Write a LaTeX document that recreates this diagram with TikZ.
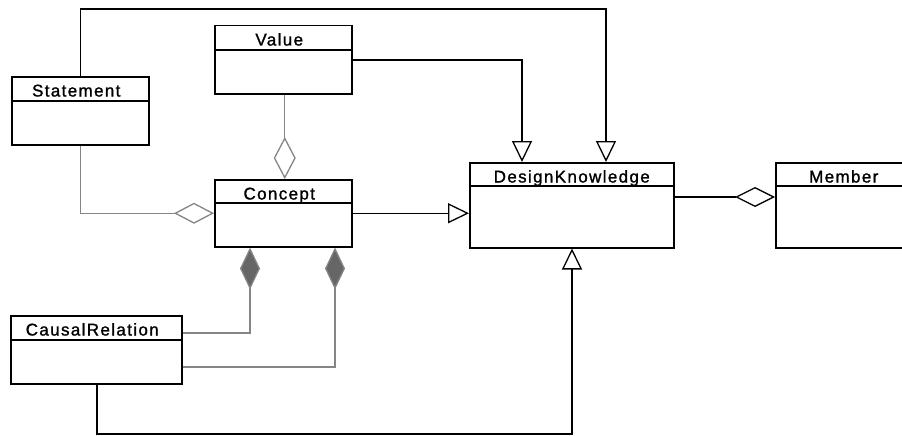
\documentclass[tikz,border=0pt]{standalone}
\usepackage{fontspec}
\setmainfont{Liberation Sans}[LetterSpace=8, FakeBold=1.2]
\usetikzlibrary{arrows.meta,calc}
\definecolor{lgray}{HTML}{858585}
\definecolor{dgray}{HTML}{666666}
\tikzset{
  cls/.style={draw=black, line width=1.5pt, rectangle, inner sep=0pt, anchor=north west, fill=white},
  dvd/.style={line width=1.5pt},
  ttl/.style={anchor=base, inner sep=0pt, font=\fontsize{17}{20}\selectfont},
  gen/.style={draw=black, line width=1.3pt, -{Triangle[open, length=21pt, width=20pt, line width=1.3pt]}},
  agg/.style={draw=lgray, line width=1.3pt, -{Diamond[open, length=42pt, width=22pt, line width=1.3pt]}},
  aggh/.style={draw=black, line width=1.3pt, -{Diamond[open, length=40pt, width=20pt, line width=1.3pt]}},
  aggs/.style={draw=lgray, line width=1.3pt, -{Diamond[open, length=40pt, width=21pt, line width=1.3pt]}},
  comp/.style={draw=lgray, line width=1.3pt, -{Diamond[fill=dgray, length=42pt, width=20pt, line width=1.3pt]}},
}
\begin{document}
\begin{tikzpicture}[x=1pt, y=-1pt]
\useasboundingbox (0,0) rectangle (902,436);
\clip (0,0) rectangle (902,436);
% classes
\node[cls, minimum width=137pt, minimum height=68pt] (value) at (214,25) {};
\node[cls, minimum width=137pt, minimum height=68pt] (statement) at (11,76) {};
\node[cls, minimum width=137pt, minimum height=67pt] (concept) at (214,179) {};
\node[cls, minimum width=204pt, minimum height=85pt] (dk) at (469,162) {};
\node[cls, minimum width=138pt, minimum height=85pt] (member) at (775,162) {};
\node[cls, minimum width=171pt, minimum height=68pt] (causal) at (10,315) {};
% dividers
\draw[dvd] ($(value.north west)+(0,25)$) -- ($(value.north east)+(0,25)$);
\draw[dvd] ($(statement.north west)+(0,25)$) -- ($(statement.north east)+(0,25)$);
\draw[dvd] ($(concept.north west)+(0,24)$) -- ($(concept.north east)+(0,24)$);
\draw[dvd] ($(dk.north west)+(0,24)$) -- ($(dk.north east)+(0,24)$);
\draw[dvd] ($(member.north west)+(0,24)$) -- ($(member.north east)+(0,24)$);
\draw[dvd] ($(causal.north west)+(0,25)$) -- ($(causal.north east)+(0,25)$);
% titles
\node[ttl] (tvalue) at ($(value.north)+(-4,20.5)$) {Value};
\node[ttl] (tstatement) at ($(statement.north)+(-4,20.5)$) {Statement};
\node[ttl] (tconcept) at ($(concept.north)+(-4,20.5)$) {Concept};
\node[ttl] (tdk) at ($(dk.north)+(0,20.5)$) {DesignKnowledge};
\node[ttl] (tmember) at ($(member.north)+(-1,20.5)$) {Member};
\node[ttl] (tcausal) at ($(causal.north)+(-4,20.5)$) {CausalRelation};
% generalizations
\coordinate (topcorner) at (606,9);
\draw[gen] (statement.north) |- (topcorner) -- ($(dk.north west)+(137,0)$);
\draw[gen] ($(value.north east)+(0,35)$) -| ($(dk.north west)+(53,0)$);
\draw[gen] (concept.east) -- (concept.east -| dk.west);
\coordinate (botcorner) at (97,434);
\draw[gen] ($(causal.south west)+(87,0)$) |- (botcorner -| 572,0) -- ($(dk.south west)+(103,0)$);
% aggregations
\draw[agg] ($(value.south)+(1.5,0)$) -- ($(concept.north)+(1.5,0)$);
\draw[aggs] (statement.south) |- (concept.west);
\draw[aggh] ($(dk.north east)+(0,35)$) -- ($(member.north west)+(0,35)$);
% compositions
\draw[comp] ($(causal.north east)+(0,18)$) -| ($(concept.south west)+(36,0)$);
\draw[comp] ($(causal.north east)+(0,52)$) -| ($(concept.south west)+(121,0)$);
\end{tikzpicture}
\end{document}
